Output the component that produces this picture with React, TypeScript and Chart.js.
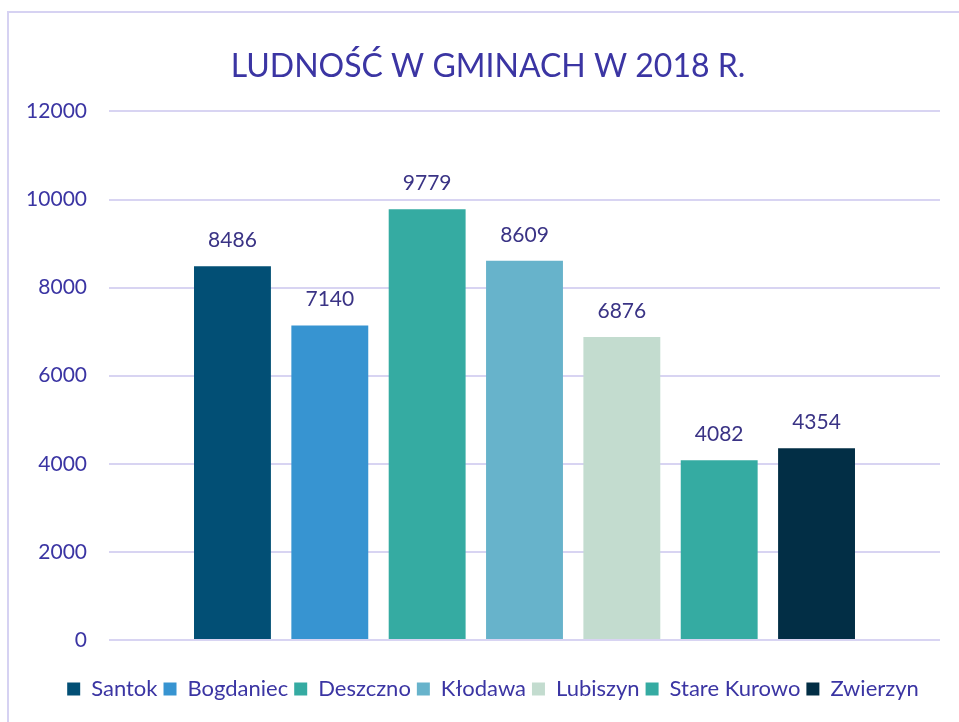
import React, { useEffect, useRef } from "react";
import { Chart, registerables } from "chart.js";

Chart.register(...registerables);

const categories = [""];
const gminy = ["Santok", "Bogdaniec", "Deszczno", "Kłodawa", "Lubiszyn", "Stare Kurowo", "Zwierzyn"];
const ludnosc = [8486, 7140, 9779, 8609, 6876, 4082, 4354];
const colors = ["#024f75", "#3794d1", "#35aba2", "#67b3cb", "#c3dccf", "#35aba2", "#022e45"];
const yTicks = [0, 2000, 4000, 6000, 8000, 10000, 12000];
const title = "LUDNOŚĆ W GMINACH W 2018 R.";

const TEXT = "#3b35a3";
const LABEL = "#3a3385";
const GRID = "#d8d4f2";
const FONT = "Lato, 'Open Sans', sans-serif";
const CW = 976;
const CH = 722;

const borderPlugin = {
  id: "frame",
  beforeDraw(chart: any) {
    const ctx = chart.ctx;
    ctx.save();
    ctx.strokeStyle = "#d6d2f2";
    ctx.lineWidth = 2;
    ctx.strokeRect(8, 12, chart.width + 20, chart.height + 20);
    ctx.restore();
  },
};

const shiftPlugin = {
  id: "shift",
  afterLayout(chart: any) {
    if (chart.titleBlock) {
      chart.titleBlock.left += 18;
      chart.titleBlock.right += 18;
    }
    if (chart.legend) {
      chart.legend.left += 23;
      chart.legend.right += 23;
    }
  },
};

const valuePlugin = {
  id: "values",
  afterDatasetsDraw(chart: any) {
    const ctx = chart.ctx;
    ctx.save();
    ctx.fillStyle = LABEL;
    ctx.font = `21px ${FONT}`;
    ctx.textAlign = "center";
    ctx.textBaseline = "middle";
    chart.data.datasets.forEach((ds: any, i: number) => {
      const meta = chart.getDatasetMeta(i);
      meta.data.forEach((bar: any, j: number) => {
        ctx.fillText(String(ds.data[j]), bar.x, bar.y - 26);
      });
    });
    ctx.restore();
  },
};

export default function App() {
  const ref = useRef<HTMLCanvasElement>(null);
  useEffect(() => {
    if (!ref.current) return;
    const chart = new Chart(ref.current, {
      type: "bar",
      data: {
        labels: categories,
        datasets: gminy.map((g, i) => ({
          label: g,
          data: [ludnosc[i]],
          backgroundColor: colors[i],
          borderWidth: 0,
        })),
      },
      options: {
        animation: false,
        responsive: false,
        maintainAspectRatio: false,
        layout: { padding: { left: 0, right: CW - 940, top: 0, bottom: 12 } },
        datasets: { bar: { categoryPercentage: 0.82, barPercentage: 0.79 } } as any,
        plugins: {
          title: {
            display: true,
            text: title,
            color: TEXT,
            font: { family: FONT, size: 32, weight: "normal" },
            padding: { top: 47, bottom: 26 },
          },
          legend: {
            position: "bottom",
            labels: {
              color: TEXT,
              font: { family: FONT, size: 22 },
              boxWidth: 13,
              boxHeight: 13,
              padding: 6,
            },
          },
          tooltip: { enabled: false },
        },
        scales: {
          x: {
            display: true,
            ticks: { display: false },
            grid: { display: false },
            border: { display: false },
            afterFit(scale: any) {
              scale.height = 32;
            },
          },
          y: {
            min: 0,
            max: 12000,
            afterBuildTicks(scale: any) {
              scale.ticks = yTicks.map((v) => ({ value: v }));
            },
            afterFit(scale: any) {
              scale.width = 109;
            },
            ticks: {
              color: TEXT,
              font: { family: FONT, size: 21 },
              padding: 22,
              callback: (v: any) => String(v),
            },
            grid: { color: GRID, lineWidth: 2, drawTicks: false },
            border: { display: false },
          },
        },
      },
      plugins: [borderPlugin, shiftPlugin, valuePlugin],
    });
    return () => chart.destroy();
  }, []);
  return (
    <div style={{ position: "absolute", left: 0, top: 0, width: 959, height: 722, overflow: "hidden", background: "#fff" }}>
      <canvas ref={ref} width={CW} height={CH} style={{ display: "block" }} />
    </div>
  );
}
